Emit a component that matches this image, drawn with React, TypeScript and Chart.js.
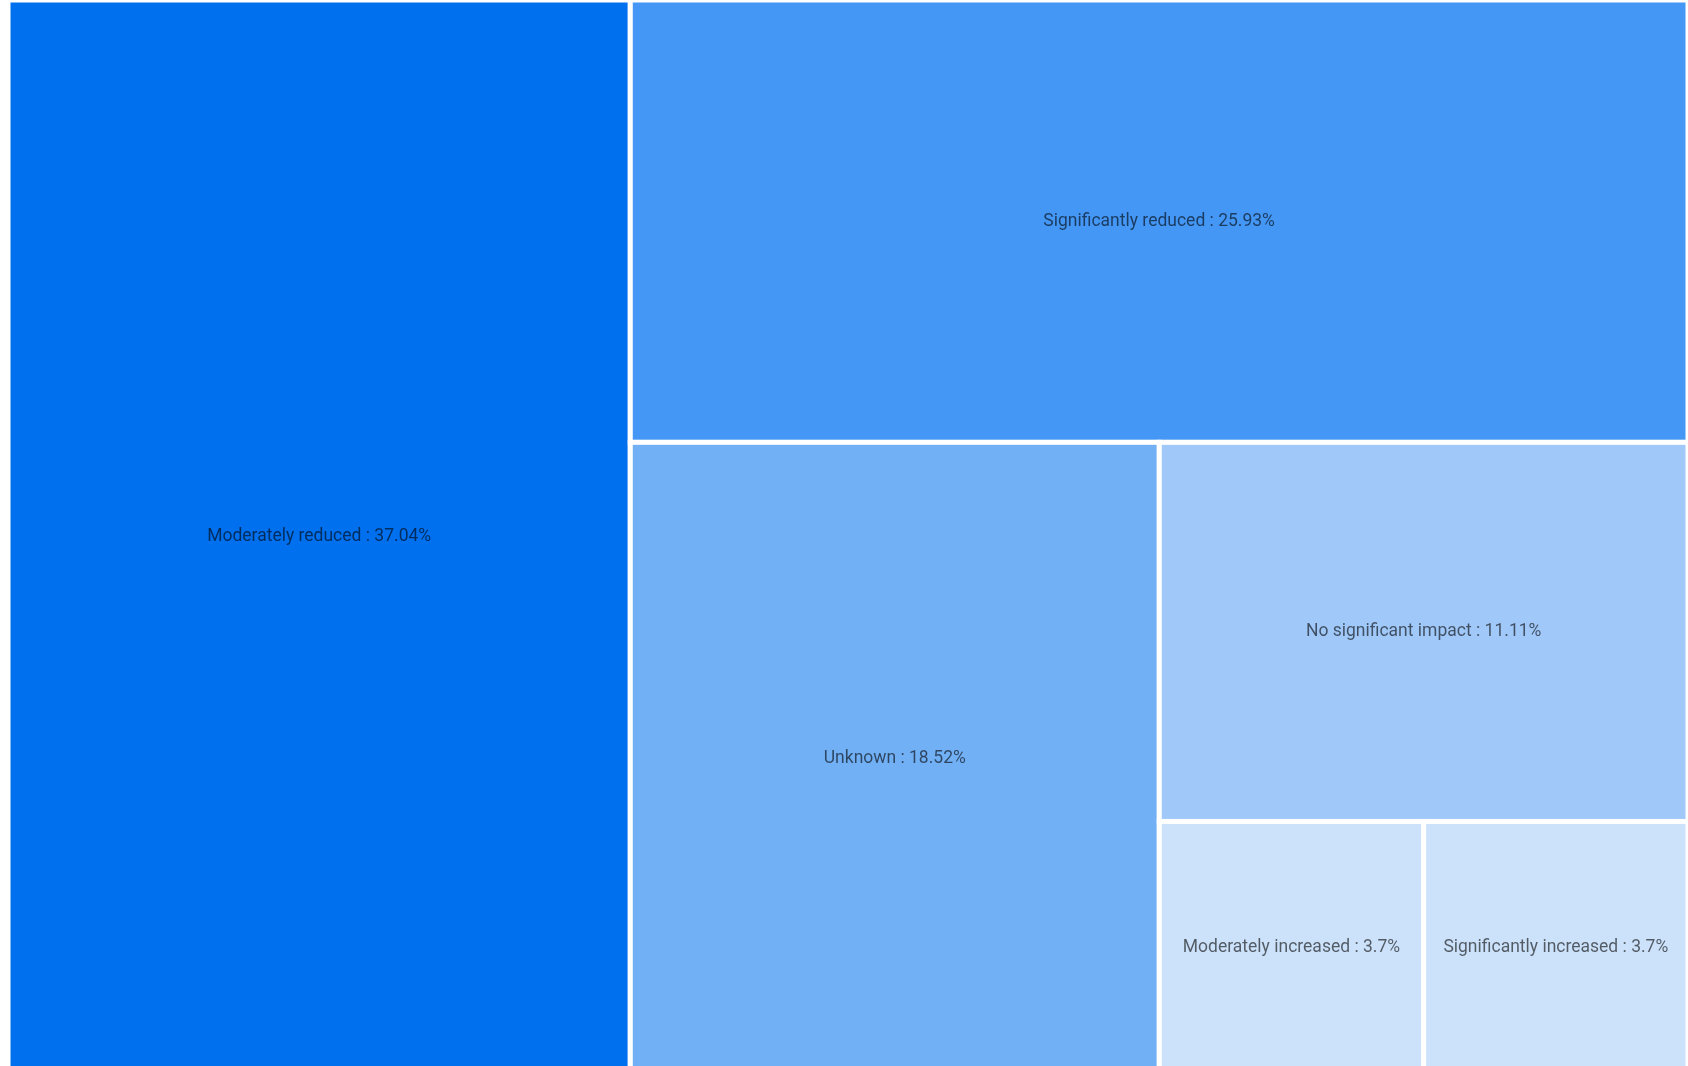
import React, { useEffect, useRef } from "react";
import { Chart, registerables } from "chart.js";

Chart.register(...registerables);

const categories = [
  "Moderately reduced",
  "Significantly reduced",
  "Unknown",
  "No significant impact",
  "Moderately increased",
  "Significantly increased",
];
const values = [37.04, 25.93, 18.52, 11.11, 3.7, 3.7];
const colors = ["#0070ef", "#4497f5", "#72b0f6", "#a0c8f9", "#cce2fa", "#cce2fa"];

type Rect = { x0: number; y0: number; x1: number; y1: number };

// Slice layout: each cell takes a full strip cut across the longer side (data units 0..1)
function layout(vals: number[], pxW: number, pxH: number): Rect[] {
  let x0 = 0, y0 = 0, x1 = 1, y1 = 1;
  let remaining = vals.reduce((a, b) => a + b, 0);
  const out: Rect[] = [];
  vals.forEach((v, i) => {
    if (i === vals.length - 1) {
      out.push({ x0, y0, x1, y1 });
      return;
    }
    const frac = v / remaining;
    const w = (x1 - x0) * pxW;
    const h = (y1 - y0) * pxH;
    if (w >= h) {
      const xm = x0 + (x1 - x0) * frac;
      out.push({ x0, y0, x1: xm, y1 });
      x0 = xm;
    } else {
      const ym = y0 + (y1 - y0) * frac;
      out.push({ x0, y0, x1, y1: ym });
      y0 = ym;
    }
    remaining -= v;
  });
  return out;
}

const treemapPlugin = {
  id: "treemapCells",
  afterDatasetsDraw(chart: any) {
    const { ctx, chartArea, scales } = chart;
    const xs = scales.x;
    const ys = scales.y;
    const rects = layout(values, chartArea.width, chartArea.height);
    ctx.save();
    rects.forEach((r, i) => {
      const px0 = xs.getPixelForValue(r.x0);
      const px1 = xs.getPixelForValue(r.x1);
      const py0 = ys.getPixelForValue(r.y0);
      const py1 = ys.getPixelForValue(r.y1);
      const left = Math.min(px0, px1);
      const top = Math.min(py0, py1);
      const w = Math.abs(px1 - px0);
      const h = Math.abs(py1 - py0);
      ctx.fillStyle = colors[i];
      ctx.fillRect(left, top, w, h);
      ctx.strokeStyle = "#ffffff";
      ctx.lineWidth = 5;
      ctx.strokeRect(left, top, w, h);
      ctx.fillStyle = "rgba(0,0,0,0.6)";
      ctx.font = "17.5px Roboto";
      ctx.textAlign = "center";
      ctx.textBaseline = "middle";
      const label = `${categories[i]} : ${values[i]}%`;
      ctx.fillText(label, left + w / 2, top + h / 2);
    });
    ctx.restore();
  },
};

export default function App() {
  const ref = useRef<HTMLCanvasElement>(null);
  useEffect(() => {
    if (!ref.current) return;
    const chart = new Chart(ref.current, {
      type: "scatter",
      data: { datasets: [{ data: [] }] },
      options: {
        animation: false,
        responsive: false,
        layout: { padding: 0 },
        plugins: { legend: { display: false }, tooltip: { enabled: false } },
        scales: {
          x: { type: "linear", min: 0, max: 1, display: false },
          y: { type: "linear", min: 0, max: 1, reverse: true, display: false },
        },
      },
      plugins: [treemapPlugin],
    });
    return () => chart.destroy();
  }, []);
  return (
    <div style={{ position: "fixed", left: 8, top: 0, width: 1680, height: 1074 }}>
      <canvas ref={ref} width={1680} height={1074} style={{ width: 1680, height: 1074 }} />
    </div>
  );
}
